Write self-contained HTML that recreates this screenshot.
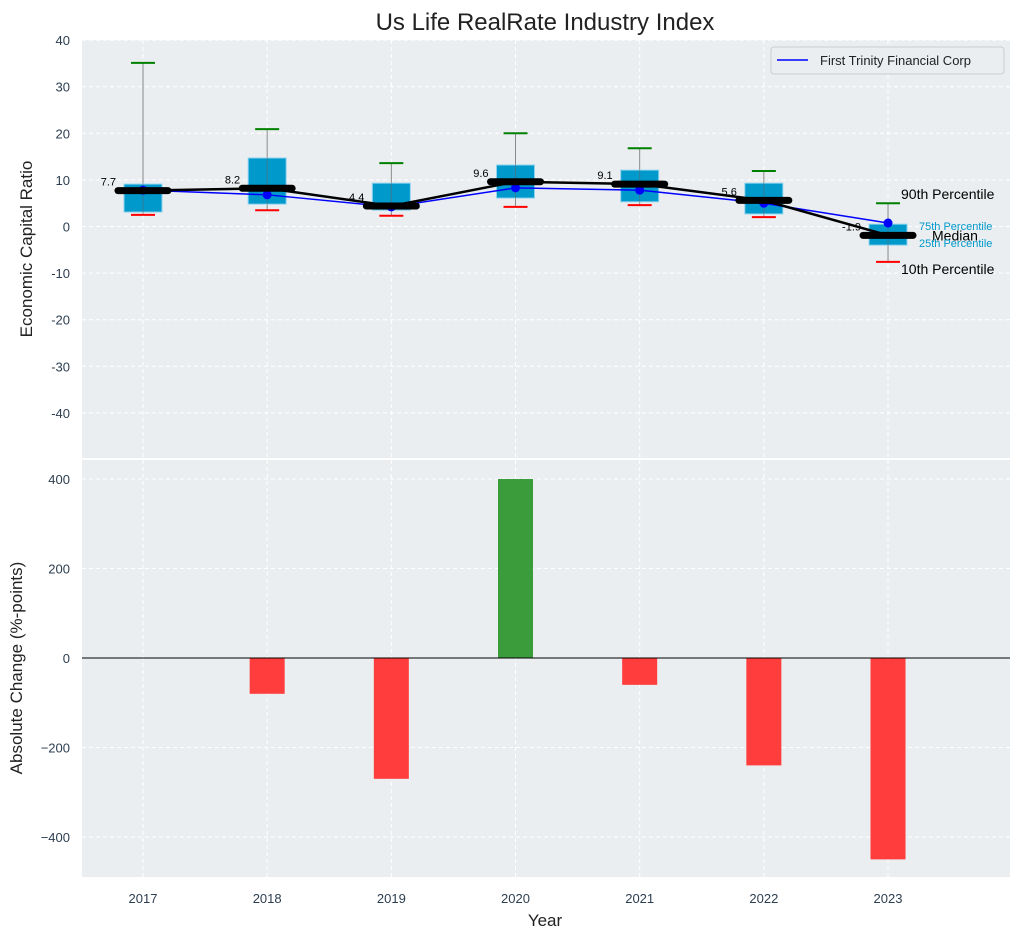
<!DOCTYPE html>
<html><head><meta charset="utf-8"><style>
body{margin:0;background:#fff;font-family:"Liberation Sans",sans-serif}
</style></head><body>
<svg id="c" width="1021" height="940" xmlns="http://www.w3.org/2000/svg" font-family="Liberation Sans, sans-serif"></svg>
<script>
const years=["2017","2018","2019","2020","2021","2022","2023"];
const p90=[35.1,20.9,13.6,20.0,16.8,11.9,5.0];
const p75=[9.1,14.7,9.3,13.2,12.1,9.3,0.5];
const med=[7.7,8.2,4.4,9.6,9.1,5.6,-1.9];
const p25=[3.1,4.8,3.5,6.1,5.3,2.7,-4.0];
const p10=[2.5,3.5,2.3,4.2,4.6,2.0,-7.6];
const company=[7.8,6.8,4.2,8.3,7.8,5.0,0.75];
const changes=[0,-80,-270,400,-60,-240,-450];
const topTicks=[40,30,20,10,0,-10,-20,-30,-40];
const botTicks=[400,200,0,-200,-400];

const svg=document.getElementById('c');const NS='http://www.w3.org/2000/svg';
function el(t,a,p){const e=document.createElementNS(NS,t);for(const k in a)e.setAttribute(k,a[k]);(p||svg).appendChild(e);return e;}
const L=82,R=1010;
const x=i=>143+i*124.17;
const yT=v=>226.5-4.66*v;
const yB=v=>658-0.4475*v;

// backgrounds
let bg=el('rect',{x:L,y:40,width:R-L,height:418,fill:'#eaeef0'});

let bg2=el('rect',{x:L,y:460,width:R-L,height:417,fill:'#eaeef0'});


// grids
topTicks.forEach(t=>{el('line',{x1:L,x2:R,y1:yT(t),y2:yT(t),stroke:'#fff','stroke-dasharray':'4,3','stroke-width':1});
 let tx=el('text',{x:70,y:yT(t)+5,'text-anchor':'end','font-size':13,fill:'#2d3e50'});tx.textContent=t;
 });
botTicks.forEach(t=>{el('line',{x1:L,x2:R,y1:yB(t),y2:yB(t),stroke:'#fff','stroke-dasharray':'4,3','stroke-width':1});
 let tx=el('text',{x:70,y:yB(t)+5,'text-anchor':'end','font-size':13,fill:'#2d3e50'});tx.textContent=t===0?'0':(t<0?'\u2212'+(-t):t);
 });
years.forEach((y,i)=>{el('line',{x1:x(i),x2:x(i),y1:40,y2:458,stroke:'#fff','stroke-dasharray':'4,3'});
 el('line',{x1:x(i),x2:x(i),y1:460,y2:877,stroke:'#fff','stroke-dasharray':'4,3'});
 let tx=el('text',{x:x(i),y:903,'text-anchor':'middle','font-size':13,fill:'#2d3e50'});tx.textContent=y;
 });

// boxes
years.forEach((y,i)=>{
 let w=el('line',{x1:x(i),x2:x(i),y1:yT(p90[i]),y2:yT(p10[i]),stroke:'#888','stroke-width':1});
 
 let b=el('rect',{x:x(i)-19,y:yT(p75[i]),width:38,height:yT(p25[i])-yT(p75[i]),fill:'#0099cc',stroke:'#8fd3ef','stroke-width':1});
 
 el('line',{x1:x(i),x2:x(i),y1:yT(p75[i]),y2:yT(p25[i]),stroke:'#5a6a70','stroke-width':1,opacity:0.6});
 let g=el('line',{x1:x(i)-12,x2:x(i)+12,y1:yT(p90[i]),y2:yT(p90[i]),stroke:'green','stroke-width':2});
 
 let r=el('line',{x1:x(i)-12,x2:x(i)+12,y1:yT(p10[i]),y2:yT(p10[i]),stroke:'red','stroke-width':2});
 
});
// company line
let cp=el('polyline',{points:company.map((v,i)=>x(i)+','+yT(v)).join(' '),fill:'none',stroke:'blue','stroke-width':1.5});

company.forEach((v,i)=>{let c=el('circle',{cx:x(i),cy:yT(v),r:4.5,fill:'blue'});});
// median line
let ml=el('polyline',{points:med.map((v,i)=>x(i)+','+yT(v)).join(' '),fill:'none',stroke:'#000','stroke-width':2.5});

med.forEach((v,i)=>{let m=el('line',{x1:x(i)-25,x2:x(i)+25,y1:yT(v),y2:yT(v),stroke:'#000','stroke-width':7,'stroke-linecap':'round'});
 
 let t=el('text',{x:x(i)-27,y:yT(v)-5,'text-anchor':'end','font-size':11,fill:'#000'});t.textContent=v.toFixed(1);
 });
// annotations at last
const li=6;
[['90th Percentile',901,yT(p90[li])-4,14,'#000'],['10th Percentile',901,yT(p10[li])+12,14,'#000'],['Median',932,yT(med[li])+5,14,'#000'],['75th Percentile',919,yT(p75[li])+6,11,'#0099cc'],['25th Percentile',919,yT(p25[li])+2,11,'#0099cc']].forEach(a=>{
 let t=el('text',{x:a[1],y:a[2],'font-size':a[3],fill:a[4]});t.textContent=a[0];
 });

// bars
changes.forEach((v,i)=>{let y0=yB(Math.max(v,0)),h=Math.abs(yB(v)-yB(0));
 let b=el('rect',{x:x(i)-17.5,y:y0,width:35,height:h,fill:v>=0?'#3a9c3a':'#ff3d3d'});
 });
el('line',{x1:L,x2:R,y1:yB(0),y2:yB(0),stroke:'#000','stroke-width':1});

// legend
let lg=el('rect',{x:771,y:47,width:233,height:27,rx:3,fill:'#eaeef0',stroke:'#ccc'});

el('line',{x1:777,x2:808,y1:60,y2:60,stroke:'blue','stroke-width':1.5});
let lt=el('text',{x:820,y:65,'font-size':13,fill:'#222'});lt.textContent='First Trinity Financial Corp';


// titles
let tt=el('text',{x:545,y:30,'text-anchor':'middle','font-size':24,fill:'#222'});tt.textContent='Us Life RealRate Industry Index';

let xt=el('text',{x:545,y:926,'text-anchor':'middle','font-size':17,fill:'#222'});xt.textContent='Year';

let y1=el('text',{x:32,y:249,'text-anchor':'middle','font-size':17,fill:'#222',transform:'rotate(-90 32 249)'});y1.textContent='Economic Capital Ratio';

let y2=el('text',{x:22,y:668,'text-anchor':'middle','font-size':17,fill:'#222',transform:'rotate(-90 22 668)'});y2.textContent='Absolute Change (%-points)';

</script>
</body></html>
